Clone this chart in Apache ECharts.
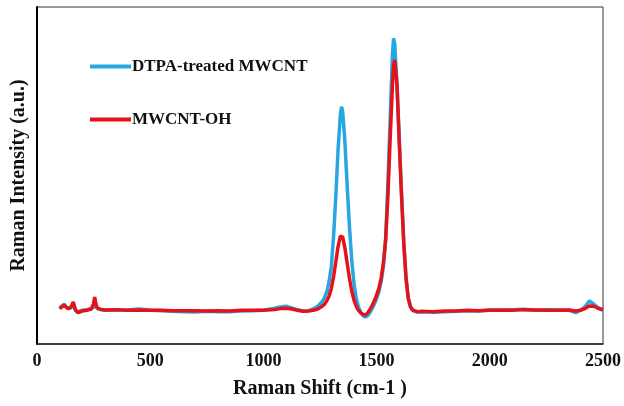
<!DOCTYPE html>
<html>
<head>
<meta charset="utf-8">
<script src="https://cdn.jsdelivr.net/npm/echarts@6/dist/echarts.min.js"></script>
<style>html,body{margin:0;padding:0;background:#fff}#c{width:624px;height:406px}</style>
</head>
<body>
<div id="c"></div>
<script>
// Raman shift (cm-1)
var shift = [
  100,110,120,130,140,150,160,165,170,180,
  190,200,220,240,250,255,260,265,270,280,
  300,350,400,450,500,550,600,650,700,750,
  800,850,900,950,1000,1050,1075,1100,1125,1150,
  1175,1200,1220,1240,1260,1270,1280,1290,1300,1310,
  1320,1330,1340,1345,1350,1360,1370,1380,1390,1400,
  1410,1420,1430,1440,1450,1460,1470,1480,1490,1500,
  1510,1520,1530,1540,1550,1560,1570,1575,1580,1590,
  1600,1610,1620,1630,1640,1650,1660,1680,1700,1750,
  1800,1850,1900,1950,2000,2050,2100,2150,2200,2250,
  2300,2350,2380,2400,2420,2440,2460,2480,2500
];
// DTPA-treated MWCNT intensity (a.u.)
var dtpa = [
  10.5,11.3,11.8,11.0,10.5,10.8,11.5,10.6,10.0,9.5,
  9.8,10.0,10.2,10.5,11.0,11.5,11.0,10.5,10.4,10.2,
  10.0,10.0,10.1,10.4,10.0,9.9,9.7,9.6,9.5,9.7,
  9.6,9.6,9.8,9.9,10.0,10.6,11.0,11.2,10.7,10.2,
  9.8,9.9,10.4,11.2,12.6,13.8,15.5,18.5,23,32,
  44,58,68,70.4,69,60,47,35,25,18,
  13.5,11.0,9.4,8.4,8.0,8.4,9.3,10.5,11.8,13.5,
  15.5,18.5,23,31,48,67,86,90.7,89,77,
  61,45,30,19.5,13.5,11,10,9.5,9.6,9.4,
  9.6,9.7,9.9,9.8,10.1,10.0,10.2,10.3,10.0,10.2,
  10.1,10.0,9.3,10.0,11.0,12.8,11.8,10.6,10.0
];
// MWCNT-OH intensity (a.u.)
var oh = [
  10.5,11.0,11.5,10.8,10.5,11.0,12.5,12.3,10.2,9.3,
  9.5,9.8,10.0,10.4,12.0,13.9,12.0,10.8,10.5,10.3,
  10.1,10.2,10.0,10.1,10.0,10.0,9.9,9.9,9.9,9.8,
  9.9,9.8,10.0,10.0,10.0,10.2,10.5,10.6,10.4,10.0,
  9.7,9.8,10.0,10.4,11.2,11.8,12.8,14.2,16.5,20,
  24.5,29,32,32.3,31.8,28.5,24,19.5,15.8,13,
  11.2,10.0,9.2,8.8,8.6,9.2,10.2,11.4,12.8,14.5,
  16.5,19.5,24,31,44,61,77,82.5,84.3,77,
  60,44,30,19.5,13.5,11,10,9.6,9.7,9.6,
  9.8,9.8,10.0,9.9,10.0,10.1,10.0,10.2,10.1,10.0,
  10.0,10.1,9.8,10.0,10.5,11.3,11.2,10.6,10.2
];
var seriesNames = ['DTPA-treated MWCNT', 'MWCNT-OH'];
var xTicks = [0, 500, 1000, 1500, 2000, 2500];

function pairs(ys) { return shift.map(function (x, i) { return [x, ys[i]]; }); }

var font = 'Liberation Serif';
var chart = echarts.init(document.getElementById('c'), null, {renderer: 'canvas'});
chart.setOption({
  animation: false,
  backgroundColor: '#fff',
  grid: {left: 37, right: 18, top: 7, bottom: 62, show: true, borderColor: '#333', borderWidth: 1, backgroundColor: 'transparent'},
  legend: {
    orient: 'vertical', left: 85, top: 53, itemGap: 36,
    itemWidth: 41, itemHeight: 4, icon: 'rect',
    textStyle: {fontFamily: font, fontWeight: 'bold', fontSize: 17, color: '#111', padding: [0,0,0,-4]},
    data: seriesNames
  },
  xAxis: {
    type: 'value', min: xTicks[0], max: xTicks[xTicks.length - 1], interval: 500,
    name: 'Raman Shift (cm-1 )', nameLocation: 'middle', nameGap: 35,
    nameTextStyle: {fontFamily: font, fontWeight: 'bold', fontSize: 20, color: '#111'},
    axisLine: {show: true, onZero: false, lineStyle: {color: '#222', width: 1.5}},
    axisTick: {show: false},
    splitLine: {show: false},
    axisLabel: {fontFamily: font, fontWeight: 'bold', fontSize: 18, color: '#111', margin: 8,
      formatter: function (v) { return String(v); }}
  },
  yAxis: {
    type: 'value', min: 0, max: 100,
    name: 'Raman Intensity (a.u.)', nameLocation: 'middle', nameGap: 8,
    nameTextStyle: {fontFamily: font, fontWeight: 'bold', fontSize: 20, color: '#111'},
    axisLine: {show: true, lineStyle: {color: '#000', width: 2}},
    axisTick: {show: false},
    axisLabel: {show: false},
    splitLine: {show: false}
  },
  series: [
    {name: seriesNames[0], type: 'line', data: pairs(dtpa), showSymbol: false, symbol: 'none',
     color: '#27a7e1', lineStyle: {width: 3.5, color: '#27a7e1'}},
    {name: seriesNames[1], type: 'line', data: pairs(oh), showSymbol: false, symbol: 'none',
     color: '#e5121a', lineStyle: {width: 3.5, color: '#e5121a'}}
  ]
});
</script>
</body>
</html>
